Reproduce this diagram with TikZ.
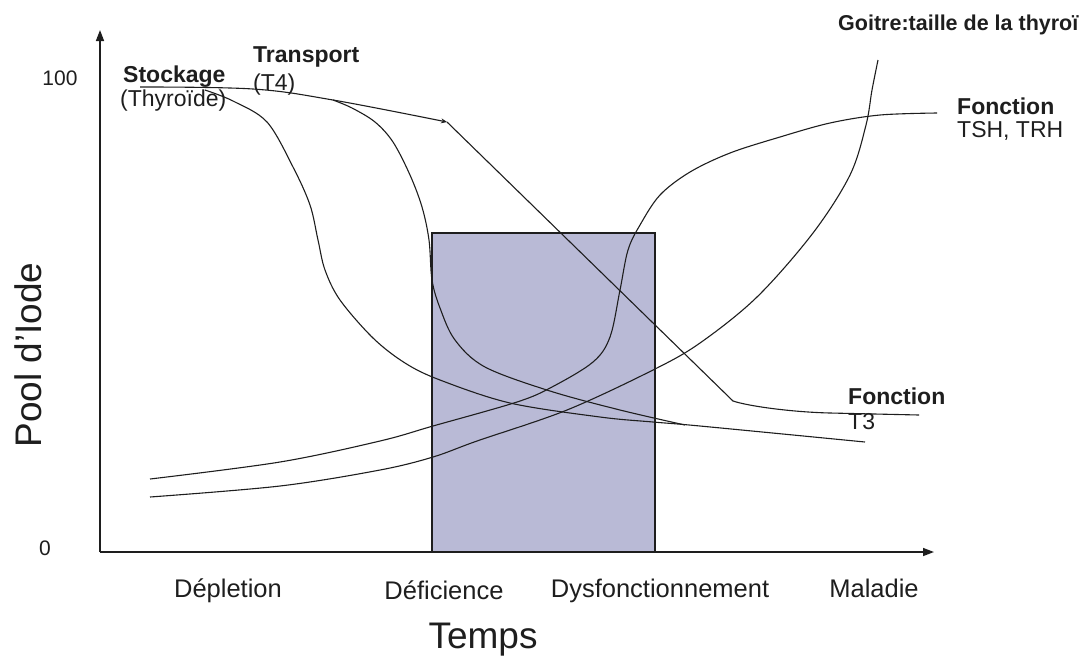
\documentclass[tikz,border=0pt]{standalone}
\usepackage{fontspec}
\setmainfont{Liberation Sans}
\usetikzlibrary{arrows.meta}
\definecolor{boxfill}{RGB}{185,186,214}
\definecolor{ink}{RGB}{30,30,30}
\begin{document}
\begin{tikzpicture}[x=1pt,y=-1pt,
  curve/.style={line width=1.1pt, draw=ink},
  axis/.style={line width=1.4pt, draw=ink, -{Triangle[length=11pt,width=8pt]}},
  lbl/.style={font=\fontsize{23}{26}\selectfont\bfseries, anchor=west, inner sep=0pt, text=ink},
  sub/.style={font=\fontsize{23}{26}\selectfont, anchor=west, inner sep=0pt, text=ink},
  phase/.style={font=\fontsize{25.5}{30}\selectfont, anchor=base, inner sep=0pt, text=ink},
  big/.style={font=\fontsize{37}{42}\selectfont, inner sep=0pt, text=ink},
  tick/.style={font=\fontsize{21}{24}\selectfont, inner sep=0pt, text=ink}]
\useasboundingbox (0,0) rectangle (1081,657);

% shaded window on the time axis
\draw[fill=boxfill, draw=ink, line width=1.2pt] (432,233) rectangle (655,552);

% axes
\coordinate (O) at (100,552);
\coordinate (ytip) at (100,30);
\coordinate (xtip) at (934,552);
\draw[axis] (O) -- (ytip);
\draw[axis] (O) -- (xtip);

% common upper branch (stores and transport)
\coordinate (knee) at (447,122);
\draw[curve, -{Stealth[length=6pt,width=5pt]}] plot[smooth, tension=0.6] coordinates {(140,87) (253,89) (333,100) (447,122)};

% Stockage (thyroide)
\draw[curve] plot[smooth, tension=0.55] coordinates {(205,90) (233,101) (267,122) (293,167) (310,205) (318,240) (325,270) (340,300) (373,338) (405,363) (440,380) (510,403) (600,417) (653,422) (700,426) (865,442)};

% Transport (T4)
\draw[curve] plot[smooth, tension=0.55] coordinates {(333,100) (352,108) (375,122) (393,142) (410,175) (422,207) (429,240) (432,280) (440,308) (455,340) (485,367) (550,391) (620,410) (685,425)};

% Fonction T3
\draw[curve] (knee) -- (733,401) .. controls (748,406) and (790,412) .. (830,413) -- (919,415);

% Fonction TSH, TRH
\draw[curve] plot[smooth, tension=0.55] coordinates {(150,479) (280,462) (380,441) (433,426) (517,402) (552,387) (593,362) (610,337) (620,290) (628,250) (640,225) (660,195) (690,172) (730,153) (780,137) (830,123) (880,115) (937,113)};

% Goitre
\draw[curve] plot[smooth, tension=0.55] coordinates {(150,497) (280,486) (380,470) (433,457) (477,441) (567,410) (653,370) (700,343) (757,297) (813,233) (850,175) (866,125) (872,90) (878,60)};

% axis texts
\node[tick] (t100) at (60,78) {100};
\node[tick] (t0) at (45,548) {0};
\node[big, rotate=90] (ylab) at (28,355) {Pool d’Iode};
\node[big] (xlab) at (483,640) {Temps};

% phases
\node[phase] (p1) at (228,597) {Dépletion};
\node[phase] (p2) at (444,599) {Déficience};
\node[phase] (p3) at (660,597) {Dysfonctionnement};
\node[phase] (p4) at (874,597) {Maladie};

% curve labels
\node[lbl] (stock) at (123,77) {Stockage};
\node[sub] (thyr) at (120,101) {(Thyroïde)};
\node[lbl] (trans) at (253,57) {Transport};
\node[sub] (t4) at (253,85) {(T4)};
\node[lbl, font=\fontsize{21.5}{24}\selectfont\bfseries] (goitre) at (838,25) {Goitre:taille de la thyroï};
\node[lbl] (ftsh) at (957,106) {Fonction};
\node[sub] (tsh) at (957,131) {TSH, TRH};
\node[lbl] (ft3) at (848,396) {Fonction};
\node[sub] (t3) at (848,422) {T3};
\end{tikzpicture}
\end{document}
